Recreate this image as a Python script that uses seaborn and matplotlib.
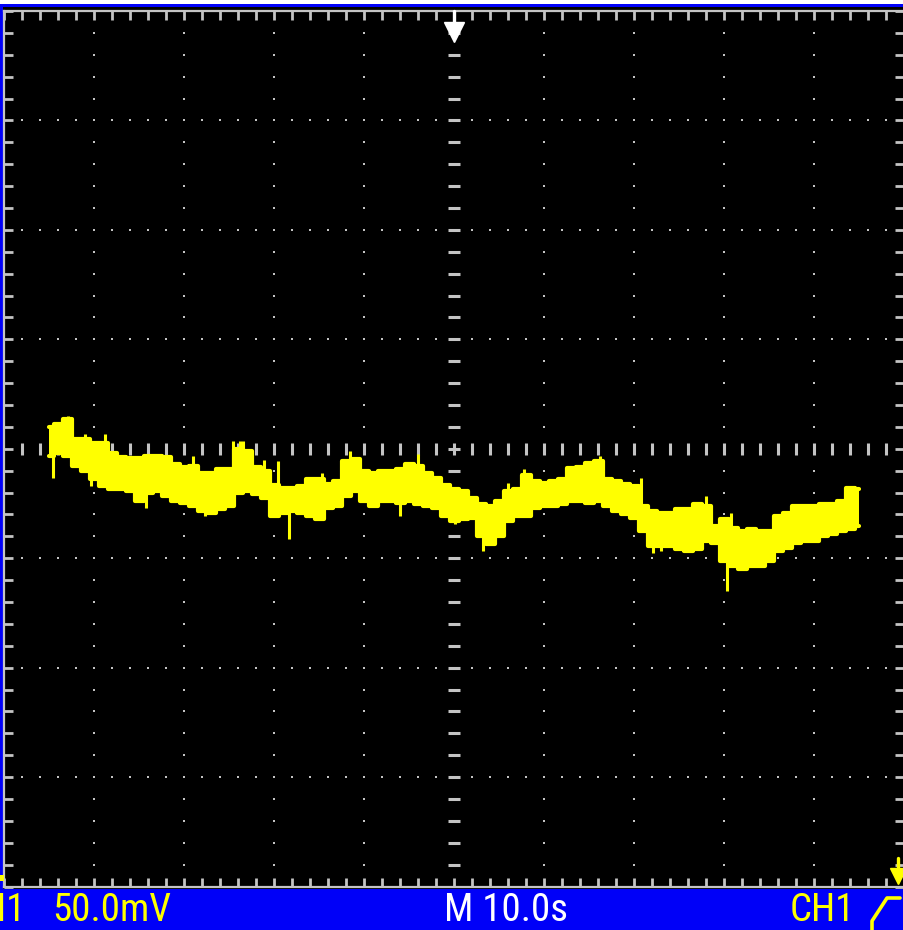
import numpy as np
import pandas as pd
import matplotlib
matplotlib.use("Agg")
import matplotlib.pyplot as plt
import seaborn as sns
from matplotlib import font_manager
from matplotlib.patches import Rectangle
from matplotlib.lines import Line2D

time_s = list(range(5, 96))  # sample columns, seconds (10 s/div)

upper_mV = [209.8, 211.2, 213.5, 204.3, 204.3, 202.5, 202.5, 197.9, 196.1, 195.7,
            195.7, 196.6, 196.6, 196.1, 192.9, 191.5, 192.0, 188.8, 188.8, 190.6,
            190.6, 199.8, 198.9, 191.5, 189.7, 183.3, 181.9, 181.9, 182.9, 186.1,
            186.1, 183.8, 185.1, 194.3, 195.2, 189.7, 188.8, 189.7, 189.7, 190.6,
            192.9, 192.0, 188.8, 186.5, 183.3, 181.5, 180.6, 177.4, 174.6, 173.7,
            176.0, 180.6, 181.5, 187.9, 185.1, 184.2, 185.1, 186.1, 191.1, 191.5,
            193.4, 194.3, 186.1, 185.1, 183.8, 182.9, 173.7, 171.4, 170.5, 170.5,
            172.3, 172.3, 174.6, 173.7, 164.6, 167.8, 163.7, 162.3, 163.2, 162.3,
            162.3, 169.1, 170.5, 173.7, 173.7, 173.7, 174.6, 174.6, 176.0, 181.9,
            181.5]

lower_mV = [196.6, 197.9, 196.6, 192.0, 189.7, 186.1, 182.9, 181.5, 181.5, 180.6,
            176.0, 179.7, 180.6, 178.3, 176.0, 175.1, 173.7, 171.4, 170.5, 172.3,
            173.7, 179.7, 180.6, 179.2, 177.4, 169.1, 170.5, 171.4, 170.5, 169.1,
            167.8, 172.8, 173.7, 178.3, 180.6, 176.0, 173.7, 176.0, 176.0, 175.1,
            176.0, 174.6, 173.7, 172.8, 169.1, 166.9, 167.8, 168.2, 160.0, 156.3,
            160.0, 166.9, 169.1, 169.1, 172.8, 173.7, 173.7, 174.6, 176.0, 176.0,
            175.1, 176.0, 173.7, 171.4, 170.1, 168.2, 162.3, 155.4, 155.4, 155.4,
            154.1, 153.1, 154.1, 157.7, 156.8, 148.6, 146.3, 144.9, 146.3, 146.3,
            148.6, 153.1, 154.5, 156.8, 157.7, 157.7, 160.0, 160.9, 162.3, 163.2,
            164.6]

spike_t = [7.1, 9.0, 11.2, 20.9, 25.4, 26.2, 26.5, 28.8, 30.4, 35.3, 38.4, 46.0,
           56.0, 57.7, 66.2, 70.7, 77.9, 80.7,
           5.4, 9.6, 15.7, 22.3, 31.6, 44.0, 50.1, 53.2, 72.1, 72.9, 80.3]
spike_mV = [214.9, 206.6, 206.6, 196.6, 203.4, 203.4, 203.4, 194.7, 194.3, 188.8, 198.9, 197.5,
            184.2, 190.6, 196.6, 186.5, 178.3, 170.5,
            186.5, 182.9, 172.8, 169.1, 158.6, 169.1, 165.5, 153.1, 152.2, 153.1, 134.9]

channel_label = "CH1"
volts_label = "50.0mV"
time_label = "M 10.0s"
trig_label = "CH1"

# ---------------- style ----------------
BLUE = "#0000f8"
YELLOW = "#ffff00"
GRID = "#c4c4c4"
W, H = 904, 930

sns.set_theme(style="white")
available = {f.name for f in font_manager.fontManager.ttflist}
narrow = "DejaVu Sans"
for cand in ["Liberation Sans Narrow", "Roboto Condensed", "Open Sans Condensed"]:
    if cand in available:
        narrow = cand
        break
plt.rcParams["font.family"] = [narrow, "DejaVu Sans"]

fig = plt.figure(figsize=(W / 100, H / 100), dpi=100)
fig.patch.set_facecolor("white")


def px_rect(x0, y0, x1, y1, color, z=-1):
    fig.add_artist(Rectangle((x0 / W, 1 - y1 / H), (x1 - x0) / W, (y1 - y0) / H,
                             transform=fig.transFigure, facecolor=color,
                             edgecolor="none", zorder=z))


px_rect(0, 4, W, 6.7, BLUE)
px_rect(0, 4, 2.7, 889, BLUE)
px_rect(2.7, 6.7, W, 889, "black")
px_rect(0, 889, W, H, BLUE)
px_rect(0, 875, 4, 881, YELLOW, z=3)  # ground-level marker (cut off)

ax = fig.add_axes([4.5 / W, 1 - 886.5 / H, 900 / W, 875.5 / H])
ax.set_facecolor("black")
ax.set_xlim(0, 100)
ax.set_ylim(0, 400)
for s in ax.spines.values():
    s.set_color(GRID)
    s.set_linewidth(1.6)
ax.set_xticks(np.arange(0, 101, 2))
ax.set_yticks(np.arange(0, 401, 10))
ax.tick_params(direction="in", length=6.3, width=2.0, color=GRID,
               top=True, right=True, bottom=True, left=True,
               labelbottom=False, labelleft=False)

# dotted graticule
vx, vy = np.meshgrid([10, 20, 30, 40, 60, 70, 80, 90], np.arange(10, 400, 10))
hx, hy = np.meshgrid(np.arange(2, 100, 2), [50, 100, 150, 250, 300, 350])
ax.scatter(vx.ravel(), vy.ravel(), marker="s", s=4.5, color=GRID, linewidths=0, zorder=2)
ax.scatter(hx.ravel(), hy.ravel(), marker="s", s=4.5, color=GRID, linewidths=0, zorder=2)
# centre axes with longer marks
cx = np.array([x for x in range(2, 100, 2) if x != 50])
cy = np.array([y for y in range(10, 400, 10) if y != 200])
ax.scatter(cx, np.full(len(cx), 200), marker="|", s=80, color=GRID, linewidths=2.2, zorder=2)
ax.scatter(np.full(len(cy), 50), cy, marker="_", s=70, color=GRID, linewidths=2.2, zorder=2)
ax.scatter([50], [200], marker="+", s=70, color=GRID, linewidths=2.2, zorder=2)

# trace envelope
n = len(time_s)
df = pd.DataFrame({"t": time_s * 2, "mV": upper_mV + lower_mV,
                   "edge": ["upper"] * n + ["lower"] * n})
sns.lineplot(data=df, x="t", y="mV", hue="edge", palette=[YELLOW, YELLOW],
             drawstyle="steps-mid", lw=3.0, legend=False, ax=ax, zorder=5)
ax.fill_between(time_s, lower_mV, upper_mV, step="mid", color=YELLOW, lw=0, zorder=5)
mid = (np.array(upper_mV) + np.array(lower_mV)) / 2
base = np.interp(spike_t, time_s, mid)
ax.vlines(spike_t, base, spike_mV, color=YELLOW, lw=2.2, zorder=5)
ax.set_xlabel("")
ax.set_ylabel("")

# trigger position marker (top centre)
ax.plot([50, 50], [400, 391], color="white", lw=2.4, zorder=6, clip_on=False)
ax.plot([50], [390.5], marker="v", markersize=15, color="white", zorder=6, clip_on=False)
# trigger level marker (right edge)
ax.plot([99.3, 99.3], [13.0, 7.5], color=YELLOW, lw=2.4, zorder=6, clip_on=False)
ax.plot([99.3], [4.6], marker="v", markersize=12, color=YELLOW, zorder=6, clip_on=False)

# status bar texts
fs = 28
base_y = 1 - 921 / H
fig.text(26 / W, base_y, channel_label, color=YELLOW, fontsize=fs, ha="right",
         va="baseline", fontstretch="condensed")
fig.text(52 / W, base_y, volts_label, color=YELLOW, fontsize=fs, ha="left",
         va="baseline", fontstretch="condensed")
fig.text(506 / W, base_y, time_label, color="white", fontsize=fs, ha="center",
         va="baseline", fontstretch="condensed")
fig.text(822 / W, base_y, trig_label, color=YELLOW, fontsize=fs, ha="center",
         va="baseline", fontstretch="condensed")
pts = np.array([(872, 934), (872, 921), (887, 898), (900, 898)])
fig.add_artist(Line2D(pts[:, 0] / W, 1 - pts[:, 1] / H, transform=fig.transFigure,
                      color=YELLOW, lw=2.6, zorder=3))

fig.savefig("out.png", dpi=100, facecolor=fig.get_facecolor())
